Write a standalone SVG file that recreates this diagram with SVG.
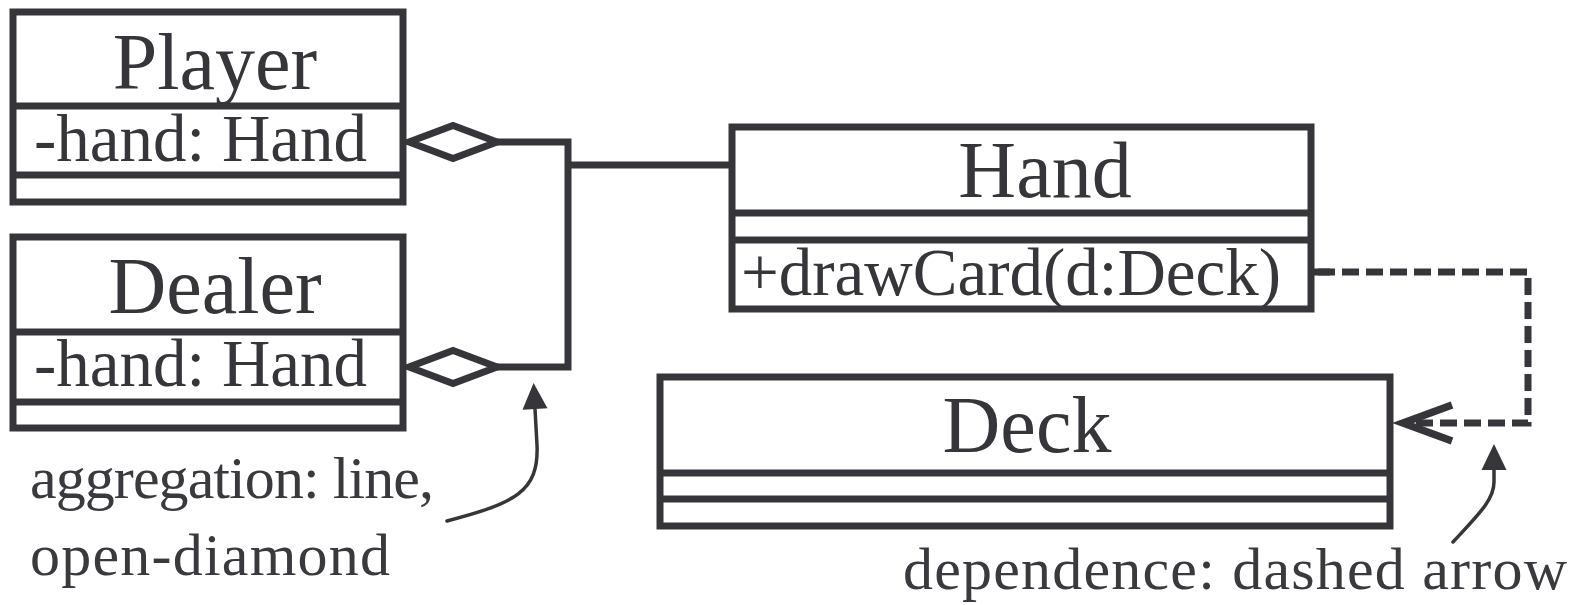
<svg xmlns="http://www.w3.org/2000/svg" width="1581" height="605" viewBox="0 0 1581 605">
  <style>
    .box { fill: #ffffff; stroke: #363539; stroke-width: 7; }
    .div { stroke: #363539; stroke-width: 7; }
    .title { font-family: "Liberation Serif", "Times New Roman", serif; font-size: 80px; fill: #363539; text-anchor: middle; }
    .member { font-family: "Liberation Serif", "Times New Roman", serif; font-size: 67px; fill: #363539; }
    .note { font-family: "Liberation Serif", "Times New Roman", serif; font-size: 60px; fill: #3a393d; }
    .line { fill: none; stroke: #363539; stroke-width: 7; stroke-linejoin: miter; }
    .dashed { stroke-dasharray: 17 7; }
    .pointer { fill: none; stroke: #363539; stroke-width: 3.5; stroke-linecap: round; }
  </style>
  <defs>
    <!-- open diamond for aggregation ends -->
    <marker id="diamond" markerUnits="userSpaceOnUse" markerWidth="100" markerHeight="100" refX="0" refY="0" orient="auto-start-reverse" overflow="visible">
      <path d="M0,0 L-44,-16.5 L-88,0 L-44,16.5 Z" fill="#ffffff" stroke="#363539" stroke-width="7" stroke-linejoin="miter"/>
    </marker>
    <!-- open arrowhead for dependency -->
    <marker id="openArrow" markerUnits="userSpaceOnUse" markerWidth="100" markerHeight="100" refX="0" refY="0" orient="auto" overflow="visible">
      <path d="M-49,-18 L0,0 L-49,18" fill="none" stroke="#363539" stroke-width="7.5" stroke-linejoin="miter"/>
    </marker>
    <!-- filled arrowhead for annotation pointers -->
    <marker id="solidArrow" markerUnits="userSpaceOnUse" markerWidth="100" markerHeight="100" refX="0" refY="0" orient="auto" overflow="visible">
      <path d="M0,-12.5 L26,0 L0,12.5 Z" fill="#363539"/>
    </marker>
  </defs>

  <rect width="1581" height="605" fill="#ffffff"/>

  <g id="connectors">
    <path class="line" d="M409,142 H568 V367 H409" marker-start="url(#diamond)" marker-end="url(#diamond)"/>
    <path class="line" d="M568,165 H732"/>
    <path class="line dashed" d="M1312,272 H1528 V423 H1403" stroke-dashoffset="-6" marker-end="url(#openArrow)"/>
    <path class="line" d="M1312,272 H1330"/>
  </g>

  <g id="player">
    <rect class="box" x="13" y="12" width="390" height="190"/>
    <line class="div" x1="13" y1="106" x2="403" y2="106"/>
    <line class="div" x1="13" y1="175" x2="403" y2="175"/>
    <text class="title" x="215" y="89">Player</text>
    <text class="member" x="34" y="161">-hand: Hand</text>
  </g>

  <g id="dealer">
    <rect class="box" x="13" y="237" width="390" height="191"/>
    <line class="div" x1="13" y1="332" x2="403" y2="332"/>
    <line class="div" x1="13" y1="402" x2="403" y2="402"/>
    <text class="title" x="215" y="313">Dealer</text>
    <text class="member" x="34" y="386">-hand: Hand</text>
  </g>

  <g id="hand">
    <rect class="box" x="732" y="127" width="579" height="182"/>
    <line class="div" x1="732" y1="213" x2="1311" y2="213"/>
    <line class="div" x1="732" y1="240" x2="1311" y2="240"/>
    <text class="title" x="1045" y="197">Hand</text>
    <text class="member" x="741" y="295">+drawCard(d:Deck)</text>
  </g>

  <g id="deck">
    <rect class="box" x="660" y="377" width="730" height="149"/>
    <line class="div" x1="660" y1="473" x2="1390" y2="473"/>
    <line class="div" x1="660" y1="499" x2="1390" y2="499"/>
    <text class="title" x="1027" y="452">Deck</text>
  </g>

  <g id="aggregation-note">
    <path class="pointer" d="M447,521 C515,503 539,492 537,445 L535,409" marker-end="url(#solidArrow)"/>
    <text class="note" x="30" y="498" textLength="404" lengthAdjust="spacing">aggregation: line,</text>
    <text class="note" x="30" y="575" textLength="360" lengthAdjust="spacing">open-diamond</text>
  </g>

  <g id="dependence-note">
    <path class="pointer" d="M1453,542 C1478,515 1494,500 1494,482 L1494,470" marker-end="url(#solidArrow)"/>
    <text class="note" x="903" y="589" textLength="664" lengthAdjust="spacing">dependence: dashed arrow</text>
  </g>
</svg>
